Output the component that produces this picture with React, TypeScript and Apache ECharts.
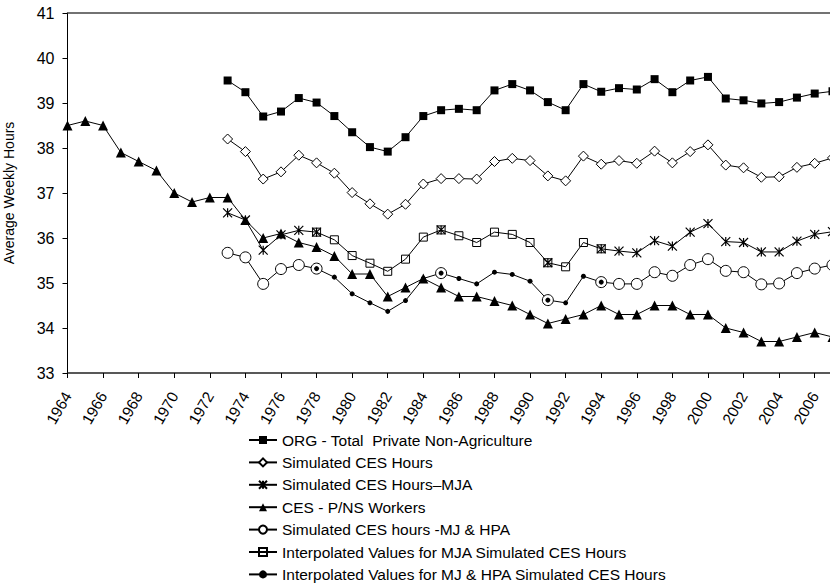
import React, { useEffect, useRef } from "react";
import * as echarts from "echarts";

const years: string[] = [];
for (let y = 1964; y <= 2007; y++) years.push(String(y));

// values indexed from 1964
const cesPNS = [38.5, 38.6, 38.5, 37.9, 37.7, 37.5, 37.0, 36.8, 36.9, 36.9, 36.4, 36.0, 36.1, 35.9, 35.8, 35.6, 35.2, 35.2, 34.7, 34.9, 35.1, 34.9, 34.7, 34.7, 34.6, 34.5, 34.3, 34.1, 34.2, 34.3, 34.5, 34.3, 34.3, 34.5, 34.5, 34.3, 34.3, 34.0, 33.9, 33.7, 33.7, 33.8, 33.9, 33.8];

// values from 1973
const org = [39.5, 39.24, 38.7, 38.81, 39.11, 39.01, 38.71, 38.35, 38.02, 37.92, 38.24, 38.71, 38.84, 38.87, 38.84, 39.28, 39.42, 39.28, 39.02, 38.84, 39.42, 39.25, 39.33, 39.3, 39.53, 39.24, 39.5, 39.58, 39.1, 39.06, 38.99, 39.02, 39.12, 39.21, 39.26];
const simCES = [38.2, 37.92, 37.31, 37.47, 37.84, 37.67, 37.44, 37.01, 36.76, 36.53, 36.75, 37.2, 37.32, 37.32, 37.31, 37.7, 37.77, 37.72, 37.38, 37.27, 37.82, 37.64, 37.72, 37.66, 37.93, 37.67, 37.92, 38.07, 37.62, 37.56, 37.35, 37.36, 37.57, 37.66, 37.78];
const simMJA = [36.56, 36.4, 35.73, 36.07, 36.17, 36.13, null, null, null, null, null, null, 36.18, null, null, null, null, null, 35.45, null, null, 35.76, 35.71, 35.67, 35.94, 35.82, 36.13, 36.32, 35.92, 35.9, 35.69, 35.69, 35.93, 36.08, 36.14];
const simMJHPA = [35.67, 35.57, 34.98, 35.31, 35.4, 35.32, null, null, null, null, null, null, 35.22, null, null, null, null, null, 34.62, null, null, 35.02, 34.98, 34.98, 35.24, 35.16, 35.4, 35.53, 35.27, 35.24, 34.97, 34.99, 35.22, 35.32, 35.4];

// values from 1978 to 1994
const interpMJA = [36.13, 35.96, 35.61, 35.44, 35.26, 35.53, 36.02, 36.18, 36.05, 35.9, 36.13, 36.08, 35.9, 35.45, 35.36, 35.9, 35.76];
const interpMJHPA = [35.32, 35.13, 34.76, 34.56, 34.37, 34.61, 35.1, 35.22, 35.1, 34.98, 35.24, 35.19, 35.04, 34.62, 34.56, 35.15, 35.02];

const yTicks = { min: 33, max: 41, interval: 1 };

function pad(startYear: number, vals: (number | null)[]): (number | null)[] {
  const out: (number | null)[] = [];
  for (let i = 0; i < years.length; i++) {
    const y = 1964 + i;
    const k = y - startYear;
    out.push(k >= 0 && k < vals.length ? vals[k] : null);
  }
  return out;
}

const FONT = "'Liberation Sans', Arial, sans-serif";
const ASTERISK = "path://M0,0L10,10M0,10L10,0M5,0L5,10";

export default function App() {
  const ref = useRef<HTMLDivElement>(null);
  useEffect(() => {
    if (!ref.current) return;
    const chart = echarts.init(ref.current, null, { renderer: "svg" });
    const line = { color: "#000", width: 1 };
    const mk = (name: string, data: (number | null)[], symbol: string, size: number, fill: string, bw: number) => ({
      name,
      type: "line",
      data,
      symbol,
      symbolSize: size,
      showAllSymbol: true,
      connectNulls: false,
      lineStyle: line,
      itemStyle: { color: fill, borderColor: "#000", borderWidth: bw },
      emphasis: { disabled: true },
    });
    chart.setOption({
      animation: false,
      textStyle: { fontFamily: FONT },
      grid: { left: 67.5, top: 13, right: 37.5, bottom: 214, containLabel: false, outerBoundsMode: "none" },
      legend: {
        orient: "vertical",
        left: 248,
        top: 432,
        width: 500,
        height: 300,
        padding: 0,
        itemWidth: 28,
        itemHeight: 10,
        itemGap: 6.4,
        textStyle: { fontSize: 15.5, color: "#000", fontFamily: FONT },
        data: [
          "ORG - Total  Private Non-Agriculture",
          "Simulated CES Hours",
          "Simulated CES Hours\u2013MJA",
          "CES - P/NS Workers",
          "Simulated CES hours -MJ & HPA",
          "Interpolated Values for MJA Simulated CES Hours",
          "Interpolated Values for MJ & HPA Simulated CES Hours",
        ],
      },
      xAxis: [
        {
          type: "category",
          data: years,
          boundaryGap: false,
          axisLine: { lineStyle: { color: "#222", width: 1.5 } },
          axisTick: { interval: 1, length: 5, lineStyle: { color: "#000" } },
          axisLabel: { interval: 1, rotate: 60, fontSize: 15.5, color: "#000", margin: 20, fontFamily: FONT },
          splitLine: { show: false },
        },
        {
          type: "category",
          data: years,
          position: "top",
          boundaryGap: false,
          axisLine: { lineStyle: { color: "#444", width: 1.5 } },
          axisTick: { show: false },
          axisLabel: { show: false },
        },
      ],
      yAxis: {
        type: "value",
        min: yTicks.min,
        max: yTicks.max,
        interval: yTicks.interval,
        name: "Average Weekly Hours",
        nameLocation: "middle",
        nameGap: 52,
        nameTextStyle: { fontSize: 14, color: "#000", fontFamily: FONT },
        axisLine: { show: true, lineStyle: { color: "#000", width: 1 } },
        axisTick: { show: true, length: 5, lineStyle: { color: "#000" } },
        axisLabel: { fontSize: 16, color: "#000", margin: 13, fontFamily: FONT },
        splitLine: { show: false },
      },
      series: [
        mk("ORG - Total  Private Non-Agriculture", pad(1973, org), "rect", 8, "#000", 0),
        mk("Simulated CES Hours", pad(1973, simCES), "diamond", 10, "#fff", 1),
        mk("Simulated CES Hours\u2013MJA", pad(1973, simMJA), ASTERISK, 9, "transparent", 1.2),
        mk("CES - P/NS Workers", pad(1964, cesPNS), "triangle", 10, "#000", 0),
        mk("Simulated CES hours -MJ & HPA", pad(1973, simMJHPA), "circle", 11, "#fff", 1),
        mk("Interpolated Values for MJA Simulated CES Hours", pad(1978, interpMJA), "rect", 8, "transparent", 1),
        mk("Interpolated Values for MJ & HPA Simulated CES Hours", pad(1978, interpMJHPA), "circle", 5, "#000", 0),
      ],
    });
    return () => chart.dispose();
  }, []);
  return (
    <div style={{ position: "fixed", left: 0, top: 0, width: 830, height: 587, overflow: "hidden", background: "#fff" }}>
      <div ref={ref} style={{ width: 870, height: 587 }} />
    </div>
  );
}
